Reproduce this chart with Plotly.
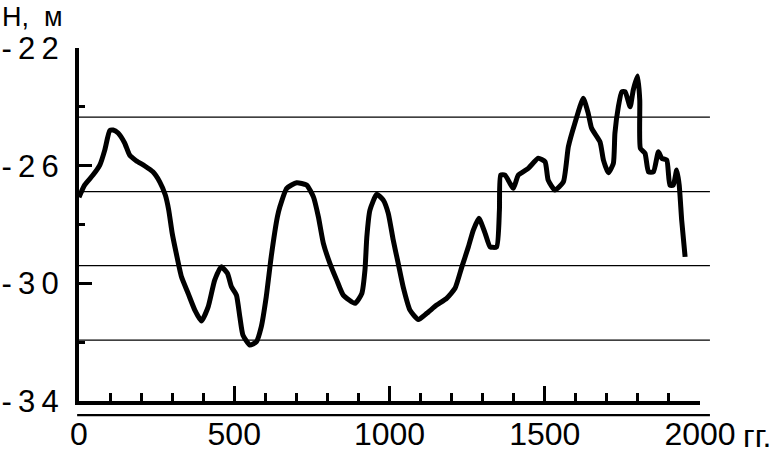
import plotly.graph_objects as go

# Years (x) and level H, m (y)
years = [0, 18, 45, 67, 83, 99, 110, 126, 147, 163, 184, 212, 238, 260, 278, 289, 300, 313,
         330, 351, 373, 394, 416, 437, 458, 478, 491, 507, 518, 528, 550, 571, 587, 603, 619,
         639, 647, 669, 701, 733, 755, 771, 787, 808, 830, 851, 889, 911, 921, 927, 937, 959,
         980, 996, 1012, 1028, 1044, 1066, 1093, 1120, 1152, 1184, 1211, 1233, 1254, 1270,
         1288, 1308, 1324, 1345, 1354, 1358, 1372, 1388, 1399, 1415, 1447, 1479, 1501, 1511,
         1533, 1560, 1576, 1597, 1624, 1640, 1651, 1678, 1689, 1705, 1721, 1726, 1737, 1748,
         1759, 1775, 1785, 1799, 1806, 1808, 1823, 1834, 1850, 1866, 1877, 1893, 1903, 1914,
         1925, 1933, 1941, 1952]
levels = [-27.07, -26.66, -26.32, -25.98, -25.47, -24.81, -24.79, -24.89, -25.23, -25.64,
          -25.83, -26.01, -26.21, -26.55, -27.00, -27.51, -28.29, -28.97, -29.78, -30.33,
          -30.91, -31.28, -30.80, -29.89, -29.44, -29.66, -30.12, -30.40, -31.14, -31.76,
          -32.10, -31.99, -31.48, -30.46, -29.10, -27.74, -27.40, -26.77, -26.58, -26.66,
          -27.06, -27.74, -28.64, -29.32, -29.89, -30.40, -30.68, -30.34, -29.55, -28.42,
          -27.51, -26.97, -27.17, -27.62, -28.53, -29.32, -30.12, -30.91, -31.23, -31.02,
          -30.74, -30.51, -30.17, -29.44, -28.76, -28.19, -27.79, -28.30, -28.76, -28.76,
          -27.51, -26.32, -26.32, -26.60, -26.77, -26.32, -26.09, -25.75, -25.87, -26.49,
          -26.83, -26.55, -25.36, -24.56, -23.71, -24.22, -24.73, -25.19, -25.81, -26.24,
          -25.92, -24.90, -24.00, -23.49, -23.49, -24.00, -23.43, -22.95, -23.77, -25.41,
          -25.58, -26.21, -26.21, -25.53, -25.75, -25.81, -26.66, -26.66, -26.15, -26.66,
          -27.85, -29.10]

x_ticks = [0, 500, 1000, 1500, 2000]
x_tick_labels = ["0", "500", "1000", "1500", "2000"]
x_minor = [100, 200, 300, 400, 600, 700, 800, 900, 1100, 1200, 1300, 1400,
           1600, 1700, 1800, 1900]
y_ticks = [-34, -30, -26, -22]
y_tick_labels = ["-\u20093\u20094", "-\u20093\u20090", "-\u20092\u20096", "-\u20092\u20092"]
y_minor = [-32, -28, -24]
grid_levels = [-24.35, -26.88, -29.40, -31.93]

FONT = "Liberation Sans, Arial, Helvetica, sans-serif"

fig = go.Figure()
fig.add_trace(go.Scatter(
    x=years, y=levels, mode="lines",
    line=dict(color="black", width=5, shape="spline", smoothing=0.5),
    hoverinfo="skip", showlegend=False, cliponaxis=False,
))

shapes = []
for g in grid_levels:
    shapes.append(dict(type="line", xref="paper", yref="y", x0=0, x1=1.016, y0=g, y1=g,
                       line=dict(color="black", width=1.3), layer="below"))
# thin line under the x axis
shapes.append(dict(type="line", xref="paper", yref="paper", x0=-0.003, x1=1.016,
                   y0=-0.040, y1=-0.040, line=dict(color="black", width=2.2)))

fig.update_layout(
    width=784, height=449,
    margin=dict(l=79, r=84, t=48, b=48),
    paper_bgcolor="white", plot_bgcolor="white",
    font=dict(family=FONT, color="black"),
    shapes=shapes,
    xaxis=dict(
        range=[0, 2000], showgrid=False, zeroline=False, automargin=False,
        showline=True, linecolor="black", linewidth=4,
        tickmode="array", tickvals=x_ticks, ticktext=x_tick_labels,
        ticks="inside", ticklen=15, tickwidth=3, tickcolor="black",
        tickfont=dict(size=32, family=FONT, color="black"),
        ticklabelstandoff=2,
        minor=dict(tickmode="array", tickvals=x_minor, ticks="inside",
                   ticklen=8, tickwidth=3, tickcolor="black", showgrid=False),
    ),
    yaxis=dict(
        range=[-34, -22], showgrid=False, zeroline=False, automargin=False,
        showline=True, linecolor="black", linewidth=4,
        tickmode="array", tickvals=y_ticks, ticktext=y_tick_labels,
        ticks="inside", ticklen=13, tickwidth=3, tickcolor="black",
        tickfont=dict(size=31, family=FONT, color="black"),
        ticklabelstandoff=10,
        minor=dict(tickmode="array", tickvals=y_minor, ticks="inside",
                   ticklen=6, tickwidth=3, tickcolor="black", showgrid=False),
    ),
    annotations=[
        dict(text="H,  м", xref="paper", yref="paper", x=-0.1272, y=1.0878,
             xanchor="left", yanchor="middle", showarrow=False,
             font=dict(size=27, family=FONT, color="black")),
        dict(text="гг.", xref="paper", yref="paper", x=1.0918, y=-0.099,
             xanchor="center", yanchor="middle", showarrow=False,
             font=dict(size=32, family=FONT, color="black")),
    ],
)

# remove the default page margin so the figure fills the window exactly
fig.write_html("out.html", config={"displayModeBar": False},
               post_script="document.body.style.margin='0';")
